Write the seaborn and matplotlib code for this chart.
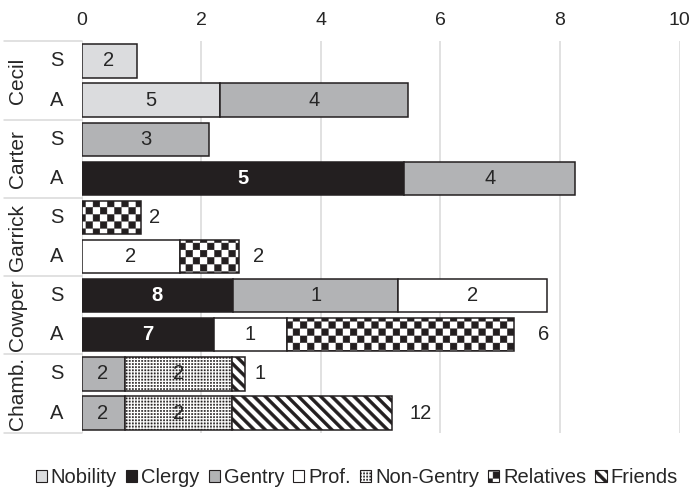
import numpy as np
import pandas as pd
import matplotlib
matplotlib.use("Agg")
import matplotlib as mpl
import matplotlib.pyplot as plt
import matplotlib.hatch as mhatch
from matplotlib.path import Path
from matplotlib.patches import Patch
from matplotlib.transforms import blended_transform_factory
import seaborn as sns

# ---------------------------------------------------------------- data
authors = ["Cecil", "Carter", "Garrick", "Cowper", "Chamb."]
kinds = ["S", "A"]
rows = [f"{a} {k}" for a in authors for k in kinds]
categories = ["Nobility", "Clergy", "Gentry", "Prof.", "Non-Gentry",
              "Relatives", "Friends"]

# bar lengths per category, one value per row (Cecil S, Cecil A, Carter S, ...)
nobility = [0.92, 2.31, 0, 0, 0, 0, 0, 0, 0, 0]
clergy = [0, 0, 0, 5.40, 0, 0, 2.54, 2.22, 0, 0]
gentry = [0, 3.15, 2.14, 2.85, 0, 0, 2.76, 0, 0.72, 0.72]
prof = [0, 0, 0, 0, 0, 1.64, 2.48, 1.21, 0, 0]
non_gentry = [0, 0, 0, 0, 0, 0, 0, 0, 1.80, 1.80]
relatives = [0, 0, 0, 0, 0.99, 1.00, 0, 3.80, 0, 0]
friends = [0, 0, 0, 0, 0, 0, 0, 0, 0.22, 2.67]

# counts printed on each segment
nobility_n = [2, 5, 0, 0, 0, 0, 0, 0, 0, 0]
clergy_n = [0, 0, 0, 5, 0, 0, 8, 7, 0, 0]
gentry_n = [0, 4, 3, 4, 0, 0, 1, 0, 2, 2]
prof_n = [0, 0, 0, 0, 0, 2, 2, 1, 0, 0]
non_gentry_n = [0, 0, 0, 0, 0, 0, 0, 0, 2, 2]
relatives_n = [0, 0, 0, 0, 2, 2, 0, 6, 0, 0]
friends_n = [0, 0, 0, 0, 0, 0, 0, 0, 1, 12]

x_ticks = [0, 2, 4, 6, 8, 10]

# ---------------------------------------------------------------- styling
INK = "#231f20"
TEXT = "#262626"
GRID = "#d9d9d9"

# distance (px) between bar end and label for labels set beside the bar
beside_pad_px = [8.5, 13.5, 24.5, 9.5, 18.0]


def _square(x0, y0, x1, y1):
    return [(x0, y0), (x1, y0), (x1, y1), (x0, y1), (x0, y0)]


SQUARE_CODES = [Path.MOVETO, Path.LINETO, Path.LINETO, Path.LINETO,
                Path.CLOSEPOLY]


class CheckerHatch(mhatch.HatchPatternBase):
    """Filled checkerboard, drawn for hatch strings containing 'O'."""
    cells = 14

    def __init__(self, hatch, density):
        self.on = "O" in hatch
        n = self.cells
        self.num_vertices = (n * n // 2) * 5 if self.on else 0

    def set_vertices_and_codes(self, vertices, codes):
        n = self.cells
        s = 1.0 / n
        inset = mpl.rcParams["hatch.linewidth"] / 144.0
        k = 0
        for i in range(n):
            for j in range(n):
                if (i + j) % 2:
                    continue
                vertices[k:k + 5] = _square(j * s + inset, i * s + inset,
                                            (j + 1) * s - inset,
                                            (i + 1) * s - inset)
                codes[k:k + 5] = SQUARE_CODES
                k += 5


class DotHatch(mhatch.HatchPatternBase):
    """Fine square stipple, drawn for hatch strings containing 'o'."""
    cells = 32
    size = 0.42

    def __init__(self, hatch, density):
        self.on = "o" in hatch
        self.num_vertices = self.cells * self.cells * 5 if self.on else 0

    def set_vertices_and_codes(self, vertices, codes):
        n = self.cells
        s = 1.0 / n
        d = s * self.size / 2
        k = 0
        for i in range(n):
            for j in range(n):
                cx, cy = (j + 0.5) * s, (i + 0.5) * s
                vertices[k:k + 5] = _square(cx - d, cy - d, cx + d, cy + d)
                codes[k:k + 5] = SQUARE_CODES
                k += 5


class StripeHatch(mhatch.HatchPatternBase):
    """Thick filled backslash stripes, drawn for hatch strings containing '*'."""
    lines = 9
    frac = 0.42

    def __init__(self, hatch, density):
        self.on = "*" in hatch
        self.offsets = (np.arange(-self.lines, 2 * self.lines + 1) / self.lines
                        if self.on else np.array([]))
        self.num_vertices = len(self.offsets) * 5

    def set_vertices_and_codes(self, vertices, codes):
        w = self.frac / self.lines - mpl.rcParams["hatch.linewidth"] / 72.0
        k = 0
        for c in self.offsets:
            vertices[k:k + 5] = [(-0.1, 0.1 + c), (1.1, -1.1 + c),
                                 (1.1, -1.1 + c + w), (-0.1, 0.1 + c + w),
                                 (-0.1, 0.1 + c)]
            codes[k:k + 5] = SQUARE_CODES
            k += 5


mhatch._hatch_types = [
    CheckerHatch if t is mhatch.LargeCircles else
    DotHatch if t is mhatch.SmallCircles else
    StripeHatch if t is mhatch.Stars else t
    for t in mhatch._hatch_types
]

sns.set_theme(style="white")
plt.rcParams["font.family"] = ["Liberation Sans", "DejaVu Sans"]
plt.rcParams["hatch.linewidth"] = 0.3
plt.rcParams["hatch.color"] = INK

series = [
    # name, widths, counts, face, hatch, label colour, bold, beside
    ("Nobility", nobility, nobility_n, "#dbdcde", None, TEXT, False, False),
    ("Clergy", clergy, clergy_n, INK, None, "white", True, False),
    ("Gentry", gentry, gentry_n, "#b2b3b5", None, TEXT, False, False),
    ("Prof.", prof, prof_n, "white", None, TEXT, False, False),
    ("Non-Gentry", non_gentry, non_gentry_n, "white", "o", TEXT, False, False),
    ("Relatives", relatives, relatives_n, "white", "O", TEXT, False, True),
    ("Friends", friends, friends_n, "white", "*", TEXT, False, True),
]

fig = plt.figure(figsize=(6.9, 4.93), dpi=100)
ax = fig.add_axes([81.5 / 690, 0.1225, 598 / 690, 0.7935])

left = np.zeros(len(rows))
rows_arr = np.array(rows)
label_jobs = []
for name, widths, counts, face, hatch, tcol, bold, beside in series:
    w = np.asarray(widths, dtype=float)
    mask = w > 0
    sub = pd.DataFrame({"row": rows_arr[mask], "value": w[mask]})
    sns.barplot(data=sub, x="value", y="row", order=rows, orient="h",
                color=face, saturation=1, errorbar=None, width=0.85,
                left=left[mask], edgecolor=INK, linewidth=1.1,
                hatch=hatch, ax=ax)
    for i in np.flatnonzero(mask):
        label_jobs.append((i, left[i], w[i], counts[i], tcol, bold, beside))
    left += w

# segment labels
pad_iter = iter(beside_pad_px)
for i, l0, w, n, tcol, bold, beside in label_jobs:
    if beside:
        pad_pt = next(pad_iter) * 72 / 100
        ax.annotate(str(n), xy=(l0 + w, i), xytext=(pad_pt, 0),
                    textcoords="offset points", ha="left", va="center",
                    fontsize=14.5, color=TEXT)
    else:
        ax.text(l0 + w / 2, i, str(n), ha="center", va="center",
                fontsize=14.5, color=tcol,
                fontweight="bold" if bold else "normal")

# axes cosmetics
ax.set_xlim(0, 10)
ax.set_ylim(len(rows) - 0.5, -0.5)
ax.set_xticks(x_ticks)
ax.set_xticklabels([str(t) for t in x_ticks])
ax.xaxis.tick_top()
ax.tick_params(axis="x", length=0, pad=9, labelsize=14, colors=TEXT)
ax.tick_params(axis="y", left=False, labelleft=False)
ax.set_xlabel("")
ax.set_ylabel("")
for s in ax.spines.values():
    s.set_visible(False)
ax.grid(axis="x", color=GRID, linewidth=1.1)
ax.grid(axis="y", visible=False)
ax.set_axisbelow(True)

# row header column: author names, S/A, and separators
trans = blended_transform_factory(ax.transAxes, ax.transData)
x_left = (4 - 81.5) / 598
for b in [-0.5, 1.5, 3.5, 5.5, 7.5, 9.5]:
    ax.plot([x_left, 0], [b, b], transform=trans, color=GRID,
            linewidth=1.1, clip_on=False)
for gi, a in enumerate(authors):
    ax.text((17 - 81.5) / 598, 2 * gi + 0.5, a, transform=trans,
            rotation=90, ha="center", va="center", fontsize=15, color=TEXT)
    for ki, k in enumerate(kinds):
        ax.text((57 - 81.5) / 598, 2 * gi + ki, k, transform=trans,
                ha="center", va="center", fontsize=14.5, color=TEXT)

# legend
handles = [Patch(facecolor=face, edgecolor=INK, hatch=hatch, linewidth=0.8)
           for _, _, _, face, hatch, _, _, _ in series]
fig.legend(handles, categories, loc="center", bbox_to_anchor=(0.517, 0.032),
           ncol=7, frameon=False, fontsize=14.5, handlelength=0.55,
           handleheight=0.55, handletextpad=0.2, columnspacing=0.45,
           labelcolor=TEXT, borderaxespad=0)

fig.savefig("out.png", dpi=100)
